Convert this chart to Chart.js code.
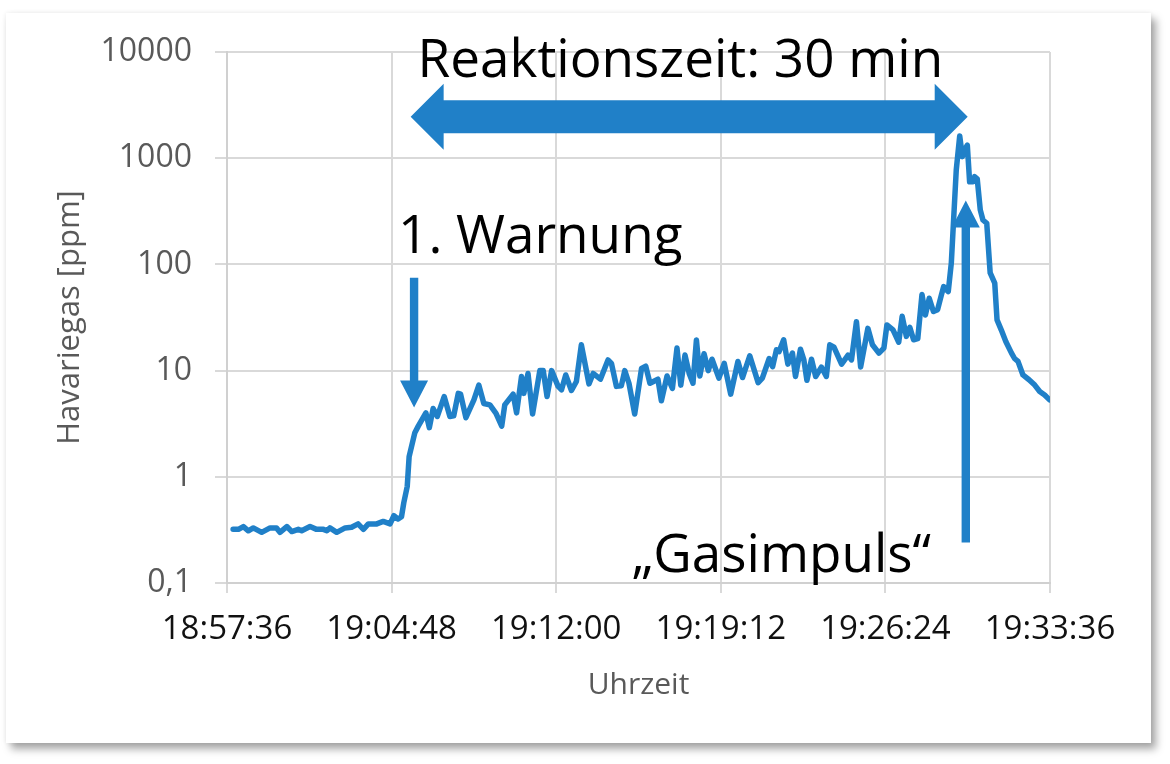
<!DOCTYPE html>
<html lang="de">
<head>
<meta charset="utf-8">
<title>Havariegas – Reaktionszeit</title>
<script src="https://cdn.jsdelivr.net/npm/chart.js@4.4.1/dist/chart.umd.min.js"></script>
<style>
    html, body { margin: 0; padding: 0; background: #fff; }
    .card {
        position: absolute; left: 6px; top: 13px; width: 1145px; height: 730px;
        background: #fff;
        box-shadow: 5px 6px 8px rgba(0,0,0,0.35), 0 0 5px rgba(0,0,0,0.07);
    }
    #gasChart { position: absolute; left: 0; top: 0; }
</style>
</head>
<body>
<div class="card"></div>
<canvas id="gasChart" width="1170" height="764"></canvas>
<script>
// ─── Daten ───
// Sekunden seit 18:57:36 und gemessene Konzentration (ppm)
const elapsed = [
    16, 30, 43, 56, 69, 91, 113, 130, 139, 157,
    170, 187, 196, 218, 235, 253, 262, 270, 288, 310,
    327, 344, 358, 371, 393, 410, 428, 438, 449, 458,
    464, 473, 478, 493, 502,
    522, 531, 541, 552, 570, 585, 595, 607, 613, 627,
    648, 661, 674, 690, 706, 721, 729, 751, 760, 773,
    779, 790, 802, 821, 830, 840, 852, 869, 878, 889,
    904, 917, 930, 950, 961, 980, 1000, 1009, 1022, 1035,
    1044, 1055, 1070, 1088, 1099, 1110, 1131, 1140, 1155, 1169,
    1181, 1191, 1202, 1213, 1223, 1232, 1241, 1252, 1263, 1273,
    1291, 1305, 1322, 1341, 1353, 1372, 1394, 1405, 1423, 1432,
    1442, 1449, 1461, 1472, 1484, 1492, 1505, 1514, 1522, 1534,
    1545, 1560, 1573, 1582, 1593, 1613, 1630, 1639, 1652, 1663,
    1682, 1694, 1711, 1724, 1732, 1748, 1763, 1772, 1783, 1792,
    1802, 1813, 1824, 1833, 1843, 1854, 1865, 1875, 1881, 1893,
    1901, 1907, 1914, 1923, 1930, 1936, 1943, 1949, 1958, 1962,
    1969, 1977, 1984, 1994, 2003, 2015, 2021, 2032, 2044, 2059,
    2067, 2076, 2089, 2105, 2120, 2133, 2146, 2159
];
const ppm = [
    0.32, 0.32, 0.34, 0.31, 0.33, 0.30, 0.33, 0.33, 0.30, 0.34,
    0.305, 0.32, 0.31, 0.34, 0.32, 0.32, 0.31, 0.33, 0.30, 0.33,
    0.335, 0.36, 0.32, 0.36, 0.36, 0.38, 0.36, 0.43, 0.40, 0.42,
    0.57, 0.81, 1.55, 2.6, 3.0,
    4.0, 2.9, 4.4, 3.7, 5.7, 3.7, 3.75, 6.1, 6.0, 3.6,
    5.3, 7.3, 4.9, 4.75, 3.96, 3.0, 4.75, 6.0, 4.0, 8.8,
    6.1, 9.4, 3.9, 10, 10, 5.7, 10, 7.1, 6.6, 9.1,
    6.5, 7.9, 17.5, 7.5, 9.4, 8.3, 12.6, 11.7, 7.1, 7.2,
    10, 7.6, 3.9, 10.5, 11, 7.6, 8.3, 5.2, 8.9, 6.8,
    16.3, 7.3, 14, 9.4, 7.6, 19.4, 8.9, 14.4, 10, 12.8,
    8.5, 11.7, 6.0, 12.2, 8.6, 13.8, 7.7, 8.5, 13, 10.9,
    15.7, 15.1, 19.5, 11.5, 14.6, 8.8, 15.9, 12.6, 8.1, 12.8,
    8.8, 10.8, 8.8, 17.5, 16.6, 11.5, 14, 12.6, 28.9, 10.8,
    25, 17.5, 14.6, 16.3, 26.9, 24.2, 18.5, 32.5, 21, 25.5,
    19.5, 20, 52, 33.4, 48, 36, 37.5, 51.7, 61.8, 55.5,
    103, 262, 776, 1620, 1035, 1200, 1330, 600, 600, 670,
    640, 326, 262, 244, 83, 66.5, 30, 24.2, 18.8, 14.6,
    13, 12.2, 9.1, 8.2, 7.3, 6.35, 5.9, 5.3
];

const xTickLabels = ['18:57:36', '19:04:48', '19:12:00', '19:19:12', '19:26:24', '19:33:36'];
const yTickValues = [0.1, 1, 10, 100, 1000, 10000];
const yTickLabels = ['0,1', '1', '10', '100', '1000', '10000'];

// Annotationen in Datenkoordinaten (Sekunden / ppm)
const reactionSpan = [482, 1944];   // Doppelpfeil
const reactionLevel = 2450;
const warnArrow = { t: 491, from: 75, to: 4.5 };
const gasArrow = { t: 1939, from: 0.24, to: 400 };

const BLUE = '#2080c8';
const TEXT_FONT = '53px "Open Sans"';

// ─── Pfeile & Beschriftungen ───
const annotations = {
    id: 'annotations',
    afterDatasetsDraw(chart) {
        const { ctx, scales: { x, y } } = chart;
        const px = t => x.getPixelForValue(t);
        const py = v => y.getPixelForValue(v);
        ctx.save();
        ctx.fillStyle = BLUE;

        // Doppelpfeil Reaktionszeit
        const xl = px(reactionSpan[0]), xr = px(reactionSpan[1]), yc = py(reactionLevel);
        const hl = 33, hh = 33, sw = 16.5;
        ctx.beginPath();
        ctx.moveTo(xl, yc);
        ctx.lineTo(xl + hl, yc - hh);
        ctx.lineTo(xl + hl, yc - sw);
        ctx.lineTo(xr - hl, yc - sw);
        ctx.lineTo(xr - hl, yc - hh);
        ctx.lineTo(xr, yc);
        ctx.lineTo(xr - hl, yc + hh);
        ctx.lineTo(xr - hl, yc + sw);
        ctx.lineTo(xl + hl, yc + sw);
        ctx.lineTo(xl + hl, yc + hh);
        ctx.closePath();
        ctx.fill();

        // senkrechte Pfeile
        const vArrow = (t, from, to) => {
            const ax = px(t), y0 = py(from), y1 = py(to);
            const dir = Math.sign(y1 - y0);
            const headLen = 27, headHalf = 14, shaftHalf = 4.2;
            const yb = y1 - dir * headLen;
            ctx.beginPath();
            ctx.moveTo(ax - shaftHalf, y0);
            ctx.lineTo(ax - shaftHalf, yb);
            ctx.lineTo(ax - headHalf, yb);
            ctx.lineTo(ax, y1);
            ctx.lineTo(ax + headHalf, yb);
            ctx.lineTo(ax + shaftHalf, yb);
            ctx.lineTo(ax + shaftHalf, y0);
            ctx.closePath();
            ctx.fill();
        };
        vArrow(warnArrow.t, warnArrow.from, warnArrow.to);
        vArrow(gasArrow.t, gasArrow.from, gasArrow.to);

        // Texte
        ctx.fillStyle = '#000';
        ctx.font = TEXT_FONT;
        ctx.textBaseline = 'alphabetic';
        ctx.textAlign = 'center';
        ctx.fillText('Reaktionszeit: 30 min', px(1190), py(5830));
        ctx.textAlign = 'left';
        ctx.fillText('1. Warnung', px(449), py(128));
        ctx.fillText('\u201EGasimpuls\u201C', px(1062), py(0.127));
        ctx.restore();
    }
};

document.fonts.load(TEXT_FONT).then(() => {
    const ctx = document.getElementById('gasChart').getContext('2d');
    new Chart(ctx, {
        type: 'line',
        data: {
            datasets: [{
                label: 'Havariegas',
                data: elapsed.map((s, i) => ({ x: s, y: ppm[i] })),
                borderColor: BLUE,
                borderWidth: 5.5,
                borderJoinStyle: 'round',
                borderCapStyle: 'round',
                pointRadius: 0,
                tension: 0,
                fill: false
            }]
        },
        options: {
            responsive: false,
            animation: false,
            events: [],
            layout: { padding: { left: 0, right: 120, top: 52, bottom: 0 } },
            scales: {
                x: {
                    type: 'linear',
                    min: 0,
                    max: 2160,
                    afterFit: s => { s.height = 181; },
                    ticks: {
                        stepSize: 432,
                        autoSkip: false,
                        maxRotation: 0,
                        padding: 17,
                        color: '#111',
                        font: { family: 'Open Sans', size: 33 },
                        callback: (v, i) => xTickLabels[i]
                    },
                    grid: { color: '#d9d9d9', lineWidth: 2, tickLength: 10 },
                    border: { color: '#d0d0d0', width: 2 },
                    title: {
                        display: true,
                        text: 'Uhrzeit',
                        color: '#595959',
                        font: { family: 'Open Sans', size: 30 },
                        padding: { top: 0, bottom: 61 }
                    }
                },
                y: {
                    type: 'logarithmic',
                    min: 0.1,
                    max: 10000,
                    afterFit: s => { s.width = 227; },
                    afterBuildTicks: s => { s.ticks = yTickValues.map(v => ({ value: v })); },
                    ticks: {
                        padding: 23,
                        color: '#595959',
                        font: { family: 'Open Sans', size: 32 },
                        callback: (v, i) => yTickLabels[i]
                    },
                    grid: { color: '#d9d9d9', lineWidth: 2, tickLength: 12 },
                    border: { color: '#d0d0d0', width: 2 },
                    title: {
                        display: true,
                        text: 'Havariegas [ppm]',
                        color: '#595959',
                        font: { family: 'Open Sans', size: 31 },
                        padding: { top: 52, bottom: 0 }
                    }
                }
            },
            plugins: {
                legend: { display: false },
                tooltip: { enabled: false }
            }
        },
        plugins: [annotations]
    });
});
</script>
</body>
</html>
